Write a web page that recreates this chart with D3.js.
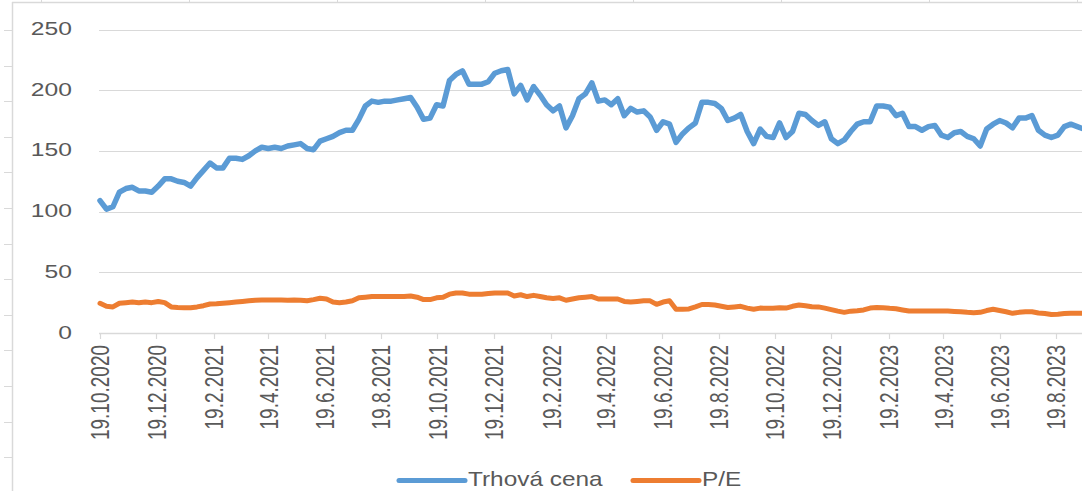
<!DOCTYPE html>
<html>
<head>
<meta charset="utf-8">
<script src="https://cdn.jsdelivr.net/npm/d3@7"></script>
<style>
  body { margin: 0; background: #fff; }
  svg { display: block; font-family: "Liberation Sans", Arial, sans-serif; }
</style>
</head>
<body>
<svg id="chart" width="1082" height="491"></svg>
<script>
// weekly closing values
var dates = [
  "2020-10-19","2020-10-26","2020-11-02","2020-11-09","2020-11-16","2020-11-23","2020-11-30","2020-12-07","2020-12-14","2020-12-21","2020-12-28",
  "2021-01-04","2021-01-11","2021-01-18","2021-01-25","2021-02-01","2021-02-08","2021-02-15","2021-02-22","2021-03-01","2021-03-08","2021-03-15","2021-03-22","2021-03-29",
  "2021-04-05","2021-04-12","2021-04-19","2021-04-26","2021-05-03","2021-05-10","2021-05-17","2021-05-24","2021-05-31","2021-06-07","2021-06-14","2021-06-21","2021-06-28",
  "2021-07-05","2021-07-12","2021-07-19","2021-07-26","2021-08-02","2021-08-09","2021-08-16","2021-08-23","2021-08-30","2021-09-06","2021-09-13","2021-09-20","2021-09-27",
  "2021-10-04","2021-10-11","2021-10-18","2021-10-25","2021-11-01","2021-11-08","2021-11-15","2021-11-22","2021-11-29","2021-12-06","2021-12-13","2021-12-20","2021-12-27",
  "2022-01-03","2022-01-10","2022-01-17","2022-01-24","2022-01-31","2022-02-07","2022-02-14","2022-02-21","2022-02-28","2022-03-07","2022-03-14","2022-03-21","2022-03-28",
  "2022-04-04","2022-04-11","2022-04-18","2022-04-25","2022-05-02","2022-05-09","2022-05-16","2022-05-23","2022-05-30","2022-06-06","2022-06-13","2022-06-20","2022-06-27",
  "2022-07-04","2022-07-11","2022-07-18","2022-07-25","2022-08-01","2022-08-08","2022-08-15","2022-08-22","2022-08-29","2022-09-05","2022-09-12","2022-09-19","2022-09-26",
  "2022-10-03","2022-10-10","2022-10-17","2022-10-24","2022-10-31","2022-11-07","2022-11-14","2022-11-21","2022-11-28","2022-12-05","2022-12-12","2022-12-19","2022-12-26",
  "2023-01-02","2023-01-09","2023-01-16","2023-01-23","2023-01-30","2023-02-06","2023-02-13","2023-02-20","2023-02-27","2023-03-06","2023-03-13","2023-03-20","2023-03-27",
  "2023-04-03","2023-04-10","2023-04-17","2023-04-24","2023-05-01","2023-05-08","2023-05-15","2023-05-22","2023-05-29","2023-06-05","2023-06-12","2023-06-19","2023-06-26",
  "2023-07-03","2023-07-10","2023-07-17","2023-07-24","2023-07-31","2023-08-07","2023-08-14","2023-08-21","2023-08-28","2023-09-04","2023-09-11","2023-09-18"
];

var price = [
  109,102,104,116,119,120,117,117,116,121,127,
  127,125,124,121,128,134,140,136,136,144,
  144,143,146,150,153,152,153,152,154,155,
  156,152,151,158,160,162,165,167,167,176,
  187,191,190,191,191,192,193,194,186,176,
  177,188,187,208,213,216,205,205,205,207,
  214,216,217,197,204,192,203,196,188,183,
  187,169,179,193,197,206,191,192,188,193,
  179,185,182,183,178,167,174,172,157,164,
  169,173,190,190,189,185,175,177,180,166,
  156,168,162,161,173,161,166,181,180,175,
  171,174,160,156,159,166,172,174,174,187,
  187,186,179,181,170,170,167,170,171,163,
  161,165,166,162,160,154,168,172,175,173,
  169,177,177,179,167,163,161,163,170,172,
  170,168
];

var pe = [
  24.5,22,21.5,24.5,25,25.5,25,25.5,25,26,25,
  21.5,21,20.8,20.8,21.5,22.5,23.9,24,24.5,25,
  25.5,26,26.5,27,27.2,27.2,27.2,27.2,27,27.2,
  27,26.6,27.5,28.6,28,25.5,25,25.5,26.5,29,
  29.5,30,30,30,30,30,30,30.5,29.5,27.5,
  27.5,29,29.5,32,33,33,32,32,32,32.5,
  33,33,33,30.5,31.5,30,31,30,29,28.5,
  29,27,28,29,29.5,30,28,28,28,28,
  26,25.5,26,26.5,26.5,23.6,25.5,26.5,19.5,19.5,
  19.8,21.5,23.5,23.5,23,22,21,21.5,22,20.5,
  19.5,20.5,20.3,20.3,20.8,20.5,22,23,22.5,21.7,
  21.5,20.5,19.3,18,17,18,18.4,19,20.5,21,
  20.8,20.3,20,19,18.1,18.1,18.1,18.1,18.1,18.1,
  18.1,17.8,17.5,17,16.7,17,18.5,19.5,18.5,17.5,
  16.2,17,17.5,17.5,16.5,16,15.2,15.5,16,16.2,
  16.2,16.2
];

var tickLabels = [
  "19.10.2020","19.12.2020","19.2.2021","19.4.2021","19.6.2021","19.8.2021",
  "19.10.2021","19.12.2021","19.2.2022","19.4.2022","19.6.2022","19.8.2022",
  "19.10.2022","19.12.2022","19.2.2023","19.4.2023","19.6.2023","19.8.2023"
];

var yTicks = [0, 50, 100, 150, 200, 250];

var seriesNames = ["Trhová cena", "P/E"];
var seriesColors = ["#5B9BD5", "#ED7D31"];

var WIDTH = 1082;
var HEIGHT = 491;
var GRID = "#d9d9d9";
var TEXT = "#595959";
var STRETCH = 1.37;   // the labels in the picture are drawn wide

var parseIso = d3.timeParse("%Y-%m-%d");
var parseTick = d3.timeParse("%d.%m.%Y");

var svg = d3.select("#chart");

// sheet frame around the chart, with the cell ticks outside it
var frame = svg.append("g");
frame.append("line").attr("x1", 12.5).attr("x2", 12.5).attr("y1", 2).attr("y2", HEIGHT)
  .attr("stroke", GRID).attr("stroke-width", 1.5);
frame.append("line").attr("x1", 12).attr("x2", WIDTH).attr("y1", 2.5).attr("y2", 2.5)
  .attr("stroke", GRID).attr("stroke-width", 1.5);
for (var i = 0; i < 13; i++) {
  var ty = Math.round(30 + i * 35.6) + 0.5;
  frame.append("line").attr("x1", 4).attr("x2", 12).attr("y1", ty).attr("y2", ty)
    .attr("stroke", GRID);
}
for (var j = 0; j < 8; j++) {
  var tx = Math.round(41 + j * 148) + 0.5;
  frame.append("line").attr("x1", tx).attr("x2", tx).attr("y1", 0).attr("y2", 3)
    .attr("stroke", GRID);
}

// scales
var xScale = d3.scaleTime()
  .domain([parseTick(tickLabels[0]), parseTick(tickLabels[tickLabels.length - 1])])
  .range([100, 1056]);

var yScale = d3.scaleLinear()
  .domain([0, 250])
  .range([333, 29.5]);

var plotLeft = 99;

// horizontal gridlines
svg.append("g").selectAll("line")
  .data(yTicks.slice(1))
  .enter()
  .append("line")
  .attr("x1", plotLeft)
  .attr("x2", WIDTH)
  .attr("y1", function (d) { return Math.round(yScale(d)) + 0.5; })
  .attr("y2", function (d) { return Math.round(yScale(d)) + 0.5; })
  .attr("stroke", GRID)
  .attr("stroke-width", 1.2);

// y labels
svg.append("g").selectAll("text")
  .data(yTicks)
  .enter()
  .append("text")
  .attr("transform", function (d) {
    return "translate(72," + (yScale(d) + 5.5) + ") scale(" + STRETCH + ",1)";
  })
  .attr("text-anchor", "end")
  .attr("font-size", 18)
  .attr("fill", TEXT)
  .text(function (d) { return d; });

// x axis line and ticks
var xAxisG = svg.append("g");
xAxisG.append("line")
  .attr("x1", plotLeft).attr("x2", WIDTH)
  .attr("y1", Math.round(yScale(0)) + 0.5).attr("y2", Math.round(yScale(0)) + 0.5)
  .attr("stroke", GRID).attr("stroke-width", 1.5);

xAxisG.selectAll(".tick")
  .data(tickLabels)
  .enter()
  .append("line")
  .attr("class", "tick")
  .attr("x1", function (d) { return Math.round(xScale(parseTick(d))) + 0.5; })
  .attr("x2", function (d) { return Math.round(xScale(parseTick(d))) + 0.5; })
  .attr("y1", yScale(0))
  .attr("y2", yScale(0) + 6)
  .attr("stroke", GRID)
  .attr("stroke-width", 1.2);

xAxisG.selectAll(".label")
  .data(tickLabels)
  .enter()
  .append("text")
  .attr("class", "label")
  .attr("transform", function (d) {
    return "translate(" + xScale(parseTick(d)) + ",345) scale(" + STRETCH + ",1) rotate(-90)";
  })
  .attr("text-anchor", "end")
  .attr("dy", "0.36em")
  .attr("font-size", 19)
  .attr("fill", TEXT)
  .text(function (d) { return d; });

// lines
var series = [price, pe];
var seriesWidths = [5.5, 5];

var line = d3.line()
  .x(function (d, i) { return xScale(parseIso(dates[i])); })
  .y(function (d) { return yScale(d); });

svg.append("g").selectAll("path")
  .data(series)
  .enter()
  .append("path")
  .attr("d", function (d) { return line(d); })
  .attr("fill", "none")
  .attr("stroke", function (d, i) { return seriesColors[i]; })
  .attr("stroke-width", function (d, i) { return seriesWidths[i]; })
  .attr("stroke-linejoin", "round")
  .attr("stroke-linecap", "round");

// legend
var legendX = [399, 633];
var legend = svg.append("g").selectAll("g")
  .data(seriesNames)
  .enter()
  .append("g")
  .attr("transform", function (d, i) { return "translate(" + legendX[i] + ",480.5)"; });

legend.append("line")
  .attr("x1", 0).attr("x2", 66)
  .attr("stroke", function (d, i) { return seriesColors[i]; })
  .attr("stroke-width", 5)
  .attr("stroke-linecap", "round");

legend.append("text")
  .attr("transform", "translate(69,5) scale(1.22,1)")
  .attr("font-size", 20)
  .attr("fill", TEXT)
  .text(function (d) { return d; });
</script>
</body>
</html>
